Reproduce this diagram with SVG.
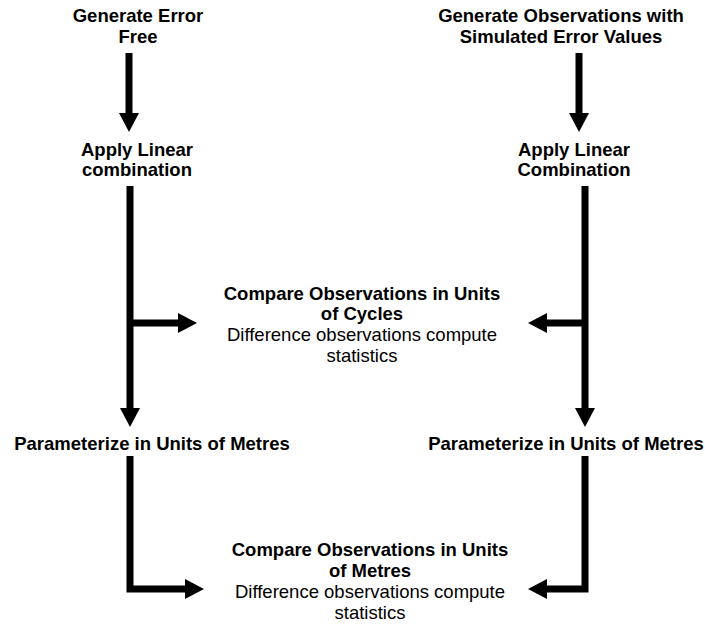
<svg xmlns="http://www.w3.org/2000/svg" width="705" height="625" viewBox="0 0 705 625">
<style>
  text { font-family: "Liberation Sans", Arial, sans-serif; font-size: 18.5px; fill: #000; text-anchor: middle; }
  .b { font-weight: bold; }
  .conn { fill: none; stroke: #000; stroke-width: 7; stroke-linejoin: miter; stroke-linecap: butt; }
</style>
<defs>
  <marker id="ah" markerUnits="userSpaceOnUse" markerWidth="20" markerHeight="20" refX="0" refY="10" orient="auto" overflow="visible">
    <path d="M0,0 L19,10 L0,20 Z" fill="#000"/>
  </marker>
</defs>
<rect width="705" height="625" fill="#fff"/>
<g id="connectors">
  <path class="conn" d="M129,53 V113" marker-end="url(#ah)"/>
  <path class="conn" d="M579,53 V113" marker-end="url(#ah)"/>
  <path class="conn" d="M130,186 V408" marker-end="url(#ah)"/>
  <path class="conn" d="M130,323 H178" marker-end="url(#ah)"/>
  <path class="conn" d="M585,186 V408" marker-end="url(#ah)"/>
  <path class="conn" d="M585,323 H547" marker-end="url(#ah)"/>
  <path class="conn" d="M130,456 V589 H185" marker-end="url(#ah)"/>
  <path class="conn" d="M585,456 V589 H547" marker-end="url(#ah)"/>
</g>
<g id="gen-error-free">
  <text class="b" x="138" y="22">Generate Error</text>
  <text class="b" x="138" y="43">Free</text>
</g>
<g id="gen-simulated">
  <text class="b" x="561" y="22">Generate Observations with</text>
  <text class="b" x="561" y="43">Simulated Error Values</text>
</g>
<g id="apply-left">
  <text class="b" x="137" y="156">Apply Linear</text>
  <text class="b" x="137" y="176">combination</text>
</g>
<g id="apply-right">
  <text class="b" x="574" y="156">Apply Linear</text>
  <text class="b" x="574" y="176">Combination</text>
</g>
<g id="compare-cycles">
  <text class="b" x="362" y="300">Compare Observations in Units</text>
  <text class="b" x="362" y="320">of Cycles</text>
  <text x="362" y="341">Difference observations compute</text>
  <text x="362" y="362">statistics</text>
</g>
<g id="param-left">
  <text class="b" x="152" y="450">Parameterize in Units of Metres</text>
</g>
<g id="param-right">
  <text class="b" x="566" y="450">Parameterize in Units of Metres</text>
</g>
<g id="compare-metres">
  <text class="b" x="370" y="556">Compare Observations in Units</text>
  <text class="b" x="370" y="577">of Metres</text>
  <text x="370" y="598">Difference observations compute</text>
  <text x="370" y="619">statistics</text>
</g>
</svg>
